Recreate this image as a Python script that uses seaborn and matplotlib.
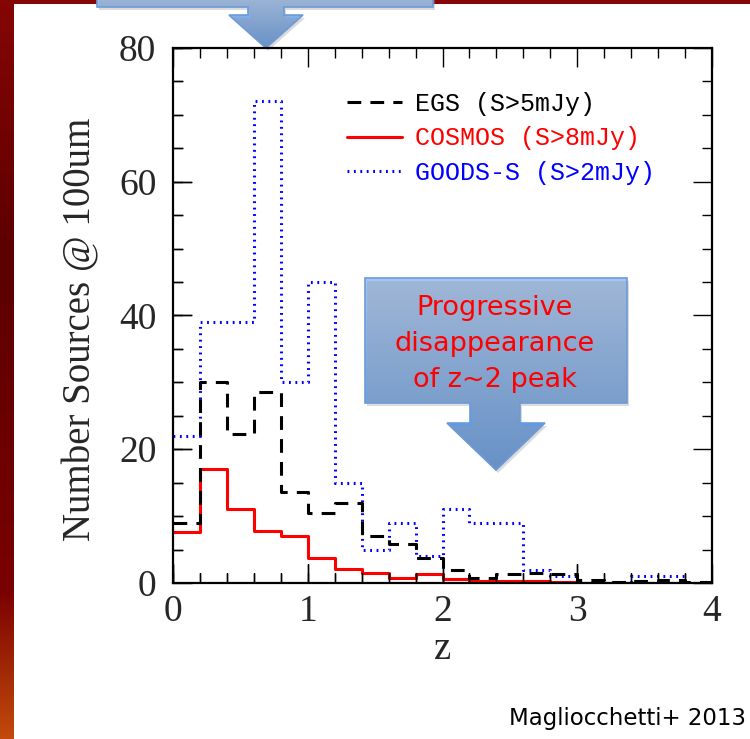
import numpy as np
import matplotlib
matplotlib.use('Agg')
import matplotlib.pyplot as plt
import seaborn as sns
from matplotlib.patches import Polygon
from matplotlib.colors import LinearSegmentedColormap

# redshift bins (width 0.2) and counts per bin
z_edges = [round(0.2 * i, 2) for i in range(21)]
z_mid = [round(0.2 * i + 0.1, 2) for i in range(20)]
egs = [9, 30, 22.3, 28.5, 13.6, 10.5, 12, 7, 5.8, 3.8, 2, 0.8, 1.3, 1.5, 1.3, 0.5, 0.1, 0.3, 0.4, 0.1]
cosmos = [7.6, 17, 11, 7.8, 7, 3.8, 2.1, 1.5, 0.7, 1.4, 0.6, 0.3, 0.35, 0.35, 0.15, 0, 0, 0, 0, 0]
goods = [22, 39, 39, 72, 30, 45, 15, 5, 9, 4, 11, 9, 9, 2, 1, 0, 0, 1, 1, 0]

labels = ['EGS (S>5mJy)', 'COSMOS (S>8mJy)', 'GOODS-S (S>2mJy)']
callout = 'Progressive\ndisappearance\nof z~2 peak'
credit = 'Magliocchetti+ 2013'

x_major = [0, 1, 2, 3, 4]
y_major = [0, 20, 40, 60, 80]
x_minor = np.arange(0, 4.01, 0.2)
y_minor = np.arange(0, 80.1, 5)

sns.set_style('ticks')
plt.rcParams['font.family'] = ['Liberation Serif', 'DejaVu Serif']

fig = plt.figure(figsize=(7.5, 7.39), dpi=100)

# slide decoration in pixel coordinates, drawn underneath the plot
ov = fig.add_axes([0, 0, 1, 1], zorder=0)
ov.axis('off')

ax = fig.add_axes([173/750, 156/739, 539/750, 535/739], zorder=1)
ax.patch.set_alpha(0)

sns.histplot(x=z_mid, weights=goods, bins=z_edges, element='step', fill=False,
             color='#0000ff', linestyle=(0, (0.6, 1.5)), linewidth=2.2, ax=ax, label=labels[2])
sns.histplot(x=z_mid, weights=cosmos, bins=z_edges, element='step', fill=False,
             color='#ff0000', linestyle='-', linewidth=2.2, ax=ax, label=labels[1])
sns.histplot(x=z_mid, weights=egs, bins=z_edges, element='step', fill=False,
             color='black', linestyle=(0, (4.5, 3)), linewidth=2.2, ax=ax, label=labels[0])

ax.set_xlim(0, 4)
ax.set_ylim(0, 80)
ax.set_xticks(x_major)
ax.set_yticks(y_major)
ax.set_xticks(x_minor, minor=True)
ax.set_yticks(y_minor, minor=True)
for s in ax.spines.values():
    s.set_linewidth(1.6)
    s.set_color('black')
ax.set_xlabel('z', fontsize=28, labelpad=2)
ax.set_ylabel('Number Sources @ 100um', fontsize=28)
ax.yaxis.set_label_coords(-0.137, 0.475)

h, l = ax.get_legend_handles_labels()
order = [l.index(t) for t in labels]
ax.legend([h[i] for i in order], [l[i] for i in order], loc='upper left',
          bbox_to_anchor=(0.323, 0.918), frameon=False, borderpad=0, borderaxespad=0,
          handlelength=2.2, handletextpad=0.5, labelspacing=0.42, labelcolor='linecolor',
          prop={'family': 'Liberation Mono', 'size': 18})

ax.set_axisbelow(False)
ax.xaxis.set_ticks_position('both')
ax.yaxis.set_ticks_position('both')
ax.tick_params(which='major', direction='in', length=14, width=1.0, color='black',
               labelsize=27, bottom=True, top=True, left=True, right=True)
ax.tick_params(which='minor', direction='in', length=7, width=1.0, color='black',
               bottom=True, top=True, left=True, right=True)
ax.tick_params(axis='x', which='major', pad=8)
ax.tick_params(axis='y', which='major', pad=12)

# bottom and left inward ticks drawn as short grid lines of thin helper axes
pos = ax.get_position()
major_px, minor_px = 19.4, 9.7


def tick_strip(axis, size_px, which):
    if axis == 'x':
        rect = [pos.x0, pos.y0, pos.width, size_px / 739]
    else:
        rect = [pos.x0, pos.y0, size_px / 750, pos.height]
    hx = fig.add_axes(rect, zorder=2, frameon=False)
    hx.patch.set_alpha(0)
    hx.set_xlim(0, 4)
    hx.set_ylim(0, 80)
    if axis == 'x':
        hx.set_yticks([])
        hx.set_xticks(x_minor if which == 'minor' else x_major)
    else:
        hx.set_xticks([])
        hx.set_yticks(y_minor if which == 'minor' else y_major)
    hx.tick_params(length=0, labelbottom=False, labelleft=False)
    hx.grid(True, axis=axis, color='black', linewidth=1.0, linestyle='-')


tick_strip('x', major_px, 'major')
tick_strip('x', minor_px, 'minor')
tick_strip('y', major_px, 'major')
tick_strip('y', minor_px, 'minor')

red = LinearSegmentedColormap.from_list('r', [(0, '#850604'), (0.35, '#5c0000'),
                                             (0.8, '#7a0000'), (1, '#c24a0c')])
ov.imshow(np.linspace(0, 1, 256).reshape(-1, 1), extent=(0, 14, 739, 0), cmap=red, aspect='auto')
ov.imshow(np.zeros((1, 2)), extent=(0, 750, 4, 0), cmap=red, vmin=0, vmax=1, aspect='auto')

blue = LinearSegmentedColormap.from_list('b', ['#a3c7f7', '#4d8ddf'])


def shape(pts, y0, y1):
    sh = Polygon([(x + 2, y + 3) for x, y in pts], closed=True, facecolor='#9a9a9a',
                 edgecolor='none', alpha=0.35)
    ov.add_patch(sh)
    p = Polygon(pts, closed=True, facecolor='none', edgecolor='#6d9ad6', lw=1.2, zorder=3)
    ov.add_patch(p)
    xs = [x for x, _ in pts]
    im = ov.imshow(np.linspace(0, 1, 256).reshape(-1, 1), extent=(min(xs), max(xs), y1, y0),
                   cmap=blue, aspect='auto', interpolation='bilinear')
    im.set_clip_path(p)


shape([(97, -5), (433, -5), (433, 7), (284, 7), (284, 15), (303, 15), (266, 48),
       (229, 15), (248, 15), (248, 7), (97, 7)], -5, 48)
shape([(365, 278), (627, 278), (627, 403), (520, 403), (520, 423), (545, 423), (496, 470),
       (447, 423), (470, 423), (470, 403), (365, 403)], 278, 470)

ov.text(495, 344, callout, color='#ff0000', fontsize=19.5, family='DejaVu Sans',
        ha='center', va='center', linespacing=1.5)
ov.text(746, 718, credit, color='black', fontsize=16.5, family='DejaVu Sans',
        ha='right', va='center')
ov.set_xlim(0, 750)
ov.set_ylim(739, 0)

fig.savefig('out.png', dpi=100, facecolor='white')
